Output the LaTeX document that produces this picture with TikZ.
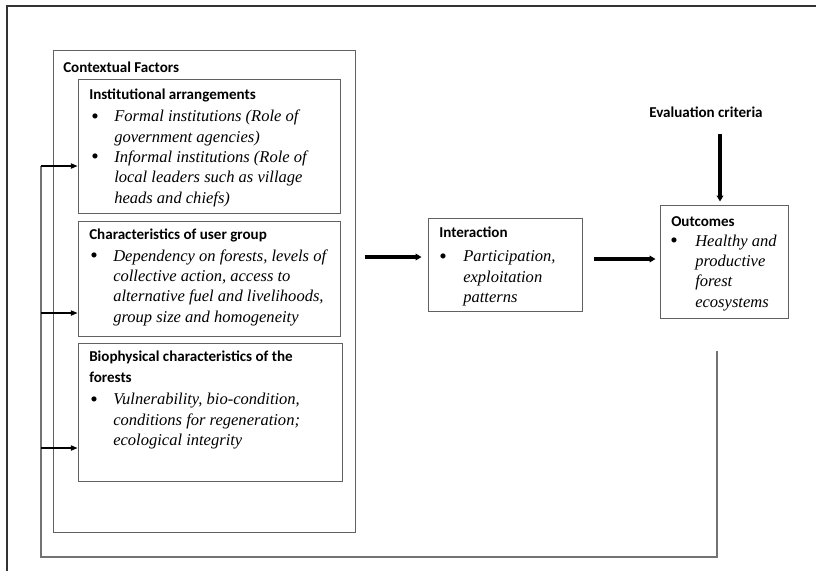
\documentclass[tikz,border=0pt]{standalone}
\usepackage{fontspec}
\setmainfont{Liberation Serif}
\newfontfamily\titlefont{Carlito}
\usetikzlibrary{arrows.meta,fit}

\begin{document}
\begin{tikzpicture}[x=0.75pt,y=-0.75pt,
  box/.style={draw=black!62, line width=0.75pt, rectangle, inner sep=0pt},
  ttl/.style={font=\titlefont\bfseries\fontsize{11.3}{15.2}\selectfont, anchor=base west, inner sep=0pt, align=left},
  body/.style={font=\itshape\fontsize{12.4}{15.2}\selectfont, anchor=base west, inner sep=0pt, align=left},
  bul/.style={font=\fontsize{16}{16}\selectfont, anchor=base, inner sep=0pt},
  bigarrow/.style={-{Triangle[length=4.5pt,width=5pt]}, line width=2.3pt},
  fbarrow/.style={-{Triangle[length=5pt,width=4pt]}, line width=0.8pt},
  fbline/.style={draw=black!55, line width=0.8pt},
  frame/.style={draw=black!80, line width=1.5pt}]

\useasboundingbox (0,0) rectangle (816,571);

% outer frame (cropped)
\draw[frame] (7,571) -- (7,6) -- (816,6);

% boxes
\node[box, fit={(53,50) (355,532)}] (ctx) {};
\node[box, fit={(78,79) (340,213)}] (inst) {};
\node[box, fit={(78,221) (340,336)}] (usr) {};
\node[box, fit={(78,343) (342,481)}] (bio) {};
\node[box, fit={(428,218) (582,311)}] (inter) {};
\node[box, fit={(660,205) (788,318)}] (out) {};

% texts (base anchor = baseline of the last line)
\node[ttl] (ctxT) at (63,72) {Contextual Factors};

\node[ttl] (instT) at (89,99) {Institutional arrangements};
\node[bul] (instB1) at (95,123) {\textbullet};
\node[bul] (instB2) at (95,163.5) {\textbullet};
\node[body] (instX) at (114,203) {Formal institutions (Role of\\government agencies)\\Informal institutions (Role of\\local leaders such as village\\heads and chiefs)};

\node[ttl] (usrT) at (89,239) {Characteristics of user group};
\node[bul] (usrB) at (94,262) {\textbullet};
\node[body] (usrX) at (113,322) {Dependency on forests, levels of\\collective action, access to\\alternative fuel and livelihoods,\\group size and homogeneity};

\node[ttl] (bioT) at (89,382) {Biophysical characteristics of the\\forests};
\node[bul] (bioB) at (94,406) {\textbullet};
\node[body] (bioX) at (113,445.5) {Vulnerability, bio-condition,\\conditions for regeneration;\\ecological integrity};

\node[ttl] (interT) at (439,237) {Interaction};
\node[bul] (interB) at (443,263) {\textbullet};
\node[body] (interX) at (463,302.5) {Participation,\\exploitation\\patterns};

\node[ttl] (outT) at (671,226) {Outcomes};
\node[bul] (outB) at (674,247) {\textbullet};
\node[body] (outX) at (695,307) {Healthy and\\productive\\forest\\ecosystems};

\node[ttl, anchor=base] (eval) at (706,117) {Evaluation criteria};

% main arrows
\draw[bigarrow, shorten <=6.75pt, shorten >=4.5pt] (ctx.east |- 0,257) -- (inter.west |- 0,257);
\draw[bigarrow, shorten <=8.25pt, shorten >=3pt] (inter.east |- 0,259) -- (out.west |- 0,259);
\draw[bigarrow, shorten <=12.75pt, shorten >=2.25pt] (eval.south -| 720,0) -- (out.north -| 720,0);

% feedback loop
\coordinate (fbtop) at (717,351);
\coordinate (fbbr) at (717,557);
\coordinate (fbbl) at (41,557);
\coordinate (fbtl) at (41,166);
\draw[fbline] (fbtop) -- (fbbr) -- (fbbl) -- (fbtl);
\draw[fbarrow] (fbtl) -- (inst.west |- fbtl);
\draw[fbarrow] (fbtl |- 0,313) -- (usr.west |- 0,313);
\draw[fbarrow] (fbtl |- 0,448) -- (bio.west |- 0,448);
\end{tikzpicture}
\end{document}
